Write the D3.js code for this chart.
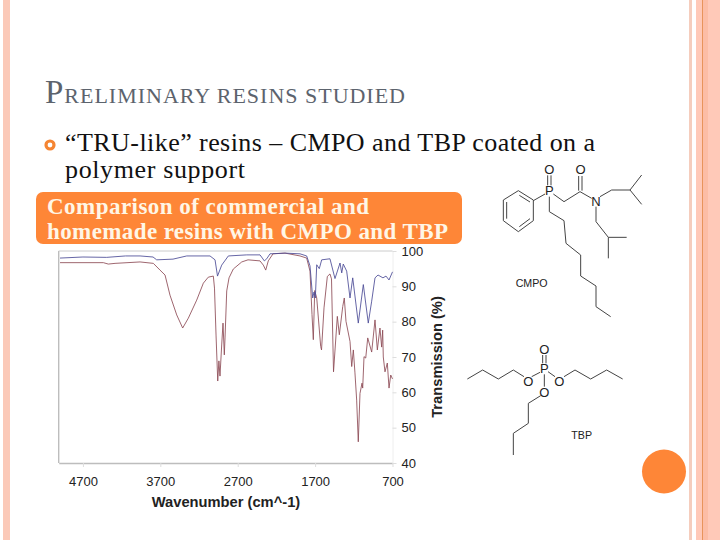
<!DOCTYPE html>
<html><head><meta charset="utf-8">
<script src="https://cdn.jsdelivr.net/npm/d3@7"></script>
<style>html,body{margin:0;padding:0;background:#fff}svg{display:block}</style>
</head><body><svg id="c" width="720" height="540"></svg>
<script>
const titleText = "Preliminary resins studied";
const bulletLines = ["“TRU-like” resins – CMPO and TBP coated on a", "polymer support"];
const bannerLines = ["Comparison of commercial and", "homemade resins with CMPO and TBP"];
const xTicks = [4700, 3700, 2700, 1700, 700];
const yTicks = [100, 90, 80, 70, 60, 50, 40];
const xLabel = "Wavenumber (cm^-1)";
const yLabel = "Transmission (%)";

const blueWave = [4996,4700,4393,4150,3962,3794,3747,3536,3359,3058,2993,2961,2907,2821,2584,2412,2382,2356,2325,2283,2089,1895,1809,1766,1731,1714,1697,1679,1646,1615,1508,1443,1378,1356,1336,1292,1249,1214,1142,1077,1013,969,926,887,823,784,745,700];
const blueValue = [98.0,98.3,98.2,98.6,98.6,98.3,97.5,97.7,98.6,98.6,97.5,92.9,96.0,98.6,98.9,98.9,98.0,97.2,97.8,99.2,99.4,99.2,98.6,95.8,86.7,88.4,86.7,96.1,95.0,97.5,97.8,92.2,96.6,93.8,96.3,94.3,86.7,92.4,79.6,90.5,79.6,85.8,92.4,93.2,92.4,92.9,91.8,94.1];
const redWave = [4996,4436,4372,4285,3962,3790,3704,3639,3575,3488,3411,3338,3230,3144,3080,3015,3000,2980,2958,2943,2929,2907,2890,2873,2864,2842,2812,2757,2648,2567,2412,2369,2338,2305,2244,2089,1895,1809,1766,1740,1723,1705,1679,1628,1617,1585,1542,1508,1488,1462,1413,1387,1343,1323,1301,1249,1227,1206,1185,1163,1142,1120,1094,1085,1068,1046,1020,969,926,896,862,840,827,819,797,767,745,723,700];
const redValue = [96.7,96.7,96.3,96.5,96.9,96.5,94.6,93.2,87.5,81.9,78.2,81.0,86.1,90.9,92.6,92.9,89.5,76.2,63.2,68.9,64.6,73.4,79.6,70.6,75.4,88.7,92.4,94.9,96.9,97.5,97.2,96.0,94.6,97.2,99.2,99.4,98.6,98.0,94.3,82.0,74.9,88.8,86.7,73.0,72.0,83.9,92.8,93.5,92.1,65.8,81.5,76.3,84.3,86.7,80.1,74.4,67.3,72.0,65.5,57.8,46.0,59.7,62.6,61.2,70.1,69.7,75.4,71.4,80.5,72.0,78.2,72.8,77.6,70.0,65.8,68.3,61.2,64.9,63.8];

const svg = d3.select("#c");
const serif = "'Liberation Serif',serif", sans = "'Liberation Sans',Arial,sans-serif";

// slide frame
const frame = [[3,7,"#fbc9b8"],[689,3,"#f5cdbd"],[696,24,"#ffc9b8"],[703,5,"#fcbda6"],[702,1,"#e8945c"]];
svg.selectAll("rect.f").data(frame).join("rect").attr("class","f")
  .attr("x",d=>d[0]).attr("y",0).attr("width",d=>d[1]).attr("height",540).attr("fill",d=>d[2]);
svg.append("circle").attr("cx",664).attr("cy",471.5).attr("r",22).attr("fill","#fe8637");

// title (small caps)
const t = svg.append("text").attr("x",45).attr("y",103).attr("font-family",serif).attr("fill","#5c636d")
  .attr("textLength",360).attr("lengthAdjust","spacing");
t.append("tspan").attr("font-size",33).text("P");
t.append("tspan").attr("font-size",22).text(titleText.slice(1).toUpperCase());

// bullet
svg.append("circle").attr("cx",50).attr("cy",145).attr("r",4).attr("fill","#fff").attr("stroke","#f58532").attr("stroke-width",3.2);
svg.selectAll("text.b").data(bulletLines).join("text").attr("class","b")
  .attr("x",65).attr("y",(d,i)=>151+i*26.5).attr("font-family",serif).attr("font-size",26).attr("fill","#111")
  .attr("textLength",(d,i)=>i?180:530).attr("lengthAdjust","spacing").text(d=>d);

// banner
svg.append("rect").attr("x",36).attr("y",192).attr("width",426).attr("height",52).attr("rx",7).attr("fill","#fe8637");
svg.selectAll("text.h").data(bannerLines).join("text").attr("class","h")
  .attr("x",47).attr("y",(d,i)=>214+i*24.5).attr("font-family",serif).attr("font-size",23).attr("font-weight","bold").attr("fill","#fff6e6")
  .attr("textLength",(d,i)=>i?401:322).attr("lengthAdjust","spacing").text(d=>d);

// chart
const x = d3.scaleLinear().domain([5013,700]).range([58.7,392.5]);
const y = d3.scaleLinear().domain([40,100]).range([463,251]);
const frameCol = "#bdbdbd";
const gx = svg.append("g").attr("transform","translate(0,463)")
  .call(d3.axisBottom(x).tickValues(xTicks).tickFormat(d3.format("d")).tickSize(4).tickPadding(10).tickSizeOuter(0));
const gy = svg.append("g").attr("transform","translate(392.5,0)")
  .call(d3.axisRight(y).tickValues(yTicks).tickFormat(d3.format("d")).tickSize(4).tickPadding(5).tickSizeOuter(0));
[gx,gy].forEach(g=>{
  g.selectAll("text").attr("font-family",sans).attr("font-size",13).attr("fill","#222");
  g.selectAll("line").attr("stroke","#ddd");
});
gx.select(".domain").attr("stroke",frameCol).attr("stroke-width",1.4);
gy.select(".domain").attr("stroke","#eee");
svg.append("line").attr("x1",x.range()[0]).attr("x2",x.range()[0]).attr("y1",y(100)).attr("y2",y(40)).attr("stroke",frameCol).attr("stroke-width",1.4);
svg.append("line").attr("x1",x.range()[0]).attr("x2",x.range()[1]).attr("y1",y(100)).attr("y2",y(100)).attr("stroke","#ccc").attr("stroke-width",1);

const line = d3.line().x(d=>x(d[0])).y(d=>y(d[1]));
svg.append("path").attr("d",line(d3.zip(redWave,redValue))).attr("fill","none").attr("stroke","#8c4a55").attr("stroke-width",.85);
svg.append("path").attr("d",line(d3.zip(blueWave,blueValue))).attr("fill","none").attr("stroke","#4a4a96").attr("stroke-width",.85);

svg.append("text").attr("x",226).attr("y",507).attr("text-anchor","middle").attr("font-family",sans).attr("font-size",14.7).attr("font-weight","bold").attr("fill","#222").text(xLabel);
svg.append("text").attr("transform","translate(442,357) rotate(-90)").attr("text-anchor","middle").attr("font-family",sans).attr("font-size",14.7).attr("font-weight","bold").attr("fill","#222").text(yLabel);

// molecular structures
function mol(ox,oy,bonds,atoms,label){
  const g = svg.append("g").attr("transform",`translate(${ox},${oy}) scale(${1/3})`);
  const l = d3.line();
  g.selectAll("path").data(bonds).join("path").attr("d",d=>l(d)).attr("fill","none").attr("stroke","#444").attr("stroke-width",3);
  g.selectAll("text.a").data(atoms).join("text").attr("class","a").attr("x",d=>d[1]).attr("y",d=>d[2]+14)
    .attr("text-anchor","middle").attr("font-family",sans).attr("font-size",39).attr("fill","#222").text(d=>d[0]);
  g.append("text").attr("x",label[1]).attr("y",label[2]+14).attr("text-anchor","middle").attr("font-family",sans).attr("font-size",32).attr("fill","#222").text(label[0]);
}
mol(490,150,[
 [[85,122],[130,150],[130,212],[85,245],[40,212],[40,150],[85,122]],
 [[88,136],[120,156]],[[120,206],[88,230]],[[50,206],[50,156]],
 [[130,152],[165,132]],
 [[173,76],[173,106]],[[183,76],[183,106]],
 [[178,140],[178,185],[222,212],[228,280],[272,315],[272,378],[318,408],[318,470],[362,500]],
 [[190,132],[222,155],[270,125],[305,145]],
 [[266,78],[266,122]],[[276,78],[276,122]],
 [[330,140],[365,120],[420,120],[455,75]],[[420,120],[455,163]],
 [[318,170],[318,215],[355,262],[410,262]],[[355,262],[355,325]]
],[["O",178,57],["O",272,57],["P",178,122],["N",318,155]],["CMPO",125,397]);
mol(460,335,[
 [[22,132],[68,105],[115,132],[160,105],[192,125]],
 [[215,125],[240,112]],
 [[248,60],[248,85]],[[258,60],[258,85]],
 [[264,110],[285,125]],
 [[312,125],[345,105],[392,132],[440,105],[488,132]],
 [[253,118],[253,155]],
 [[242,182],[205,205],[205,265],[160,295],[160,360]]
],[["O",253,42],["P",253,100],["O",205,140],["O",298,140],["O",253,172]],["TBP",365,298]);
</script></body></html>
